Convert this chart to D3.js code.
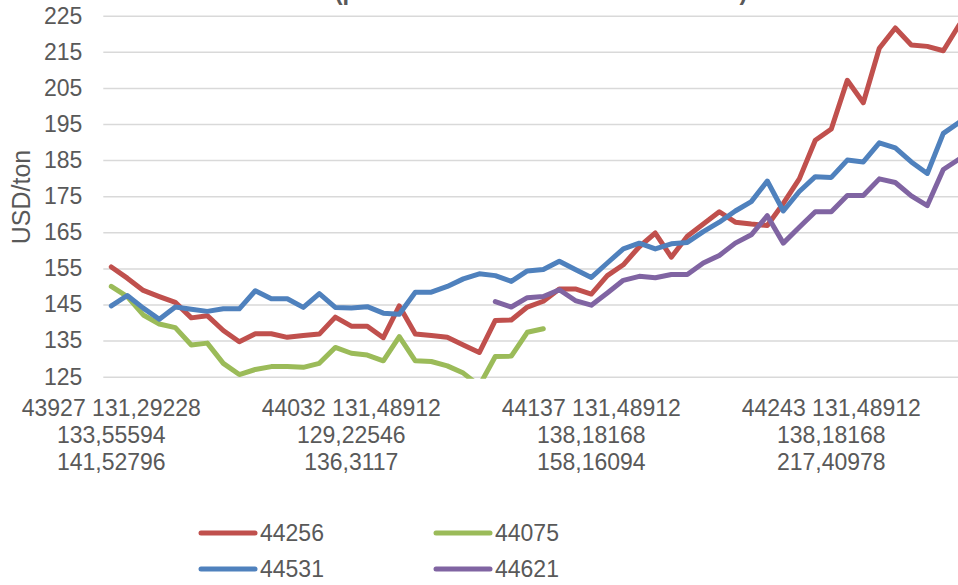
<!DOCTYPE html>
<html>
<head>
<meta charset="utf-8">
<script src="https://cdn.jsdelivr.net/npm/d3@7"></script>
<style>
  html, body { margin: 0; padding: 0; background: #ffffff; }
  svg { display: block; }
  text { font-family: "Liberation Sans", Arial, sans-serif; fill: #595959; }
</style>
</head>
<body>
<div id="chart"></div>
<script>
// ---------- data ----------
const categoryCount = 54; // weekly categories (0 .. 53), axis cut at right edge
const tickIndex = [0, 15, 30, 45];
const tickLabels = [
  ["43927 131,29228", "133,55594", "141,52796"],
  ["44032 131,48912", "129,22546", "136,3117"],
  ["44137 131,48912", "138,18168", "158,16094"],
  ["44243 131,48912", "138,18168", "217,40978"]
];
const yTicks = [125, 135, 145, 155, 165, 175, 185, 195, 205, 215, 225];
const yTitle = "USD/ton";
const chartTitle = "(price on the world market for wheat)";

const seriesNames = ["44256", "44075", "44531", "44621"];
const seriesColors = ["#C0504D", "#9BBB59", "#4F81BD", "#8064A2"];

const s44256 = [155.4,152.3,148.9,147.2,145.6,141.3,141.9,137.8,134.7,136.9,
                136.9,135.9,136.4,136.8,141.5,139.0,139.0,135.8,144.6,136.8,
                136.4,135.9,133.8,131.7,140.6,140.7,144.3,145.9,149.3,149.3,
                147.9,153.0,156.0,161.0,164.8,158.1,163.9,167.3,170.7,167.8,
                167.3,166.9,173.0,179.8,190.5,193.6,207.1,200.9,216.0,221.6,
                216.9,216.5,215.3,222.5];
const s44075 = [150.0,147.2,142.1,139.6,138.6,133.8,134.3,128.7,125.6,127.0,
                127.8,127.8,127.6,128.7,133.1,131.5,131.0,129.4,136.1,129.4,
                129.2,128.0,126.0,122.5,130.6,130.7,137.3,138.3,null,null,
                null,null,null,null,null,null,null,null,null,null,
                null,null,null,null,null,null,null,null,null,null,
                null,null,null,null];
const s44531 = [144.6,147.5,144.0,140.9,144.3,143.7,143.1,143.8,143.8,148.8,
                146.6,146.6,144.2,148.0,144.2,144.0,144.4,142.6,142.3,148.4,
                148.4,150.0,152.1,153.5,153.0,151.4,154.3,154.7,157.0,154.7,
                152.5,156.5,160.4,162.0,160.4,161.8,162.2,165.2,167.8,170.9,
                173.5,179.2,170.9,176.3,180.4,180.2,185.0,184.5,189.8,188.4,
                184.5,181.3,192.4,195.5];
const s44621 = [null,null,null,null,null,null,null,null,null,null,
                null,null,null,null,null,null,null,null,null,null,
                null,null,null,null,145.8,144.3,146.9,147.2,149.1,146.1,
                144.8,148.2,151.7,152.8,152.4,153.3,153.3,156.5,158.6,162.0,
                164.3,169.6,162.0,166.4,170.7,170.7,175.2,175.2,179.8,178.8,
                175.1,172.4,182.4,185.3];
const seriesValues = [s44256, s44075, s44531, s44621];
const drawOrder = [0, 1, 2, 3];

// ---------- layout ----------
const W = 958, H = 585;
const plotLeft = 103.3, step = 16;
const plotTop = 15.7, plotBottom = 376.7;

const svg = d3.select("#chart").append("svg")
  .attr("width", W).attr("height", H);

const x = d3.scaleBand()
  .domain(d3.range(categoryCount))
  .range([plotLeft, plotLeft + categoryCount * step])
  .padding(0);
const xc = i => x(i) + x.bandwidth() / 2;

const y = d3.scaleLinear().domain([125, 225]).range([plotBottom, plotTop]);

// title (mostly above the visible area, as in the reference)
svg.append("text")
  .attr("x", 541).attr("y", -0.5)
  .attr("text-anchor", "middle")
  .style("font-size", "23.5px").style("font-weight", "bold")
  .text(chartTitle);

// y axis with gridlines
const plotRight = plotLeft + categoryCount * step;
const yAxis = d3.axisLeft(y)
  .tickValues(yTicks)
  .tickSize(-(plotRight - plotLeft))
  .tickPadding(21)
  .tickFormat(d3.format("d"));
const gy = svg.append("g")
  .attr("transform", `translate(${plotLeft},0)`)
  .call(yAxis);
gy.select(".domain").remove();
gy.selectAll(".tick line").attr("stroke", "#d9d9d9").attr("stroke-width", 1.5);
gy.selectAll(".tick text")
  .style("font-size", "23px")
  .style("font-family", "'Liberation Sans', Arial, sans-serif")
  .attr("fill", "#595959");

// y title
svg.append("text")
  .attr("transform", "translate(30,197) rotate(-90)")
  .attr("text-anchor", "middle")
  .style("font-size", "25px")
  .text(yTitle);

// x labels (multi-line)
const gx = svg.append("g");
tickIndex.forEach((ci, k) => {
  const t = gx.append("text")
    .attr("x", xc(ci)).attr("y", 416)
    .attr("text-anchor", "middle")
    .style("font-size", "23px");
  tickLabels[k].forEach((line, j) => {
    t.append("tspan").attr("x", xc(ci)).attr("y", 416 + j * 27).text(line);
  });
});

// clip
svg.append("clipPath").attr("id", "plotclip")
  .append("rect")
  .attr("x", plotLeft).attr("y", plotTop - 3)
  .attr("width", plotRight - plotLeft).attr("height", plotBottom - plotTop + 5);

const line = d3.line()
  .defined(d => d != null)
  .x((d, i) => xc(i))
  .y(d => y(d));

const gl = svg.append("g").attr("clip-path", "url(#plotclip)");
drawOrder.forEach(k => {
  gl.append("path")
    .datum(seriesValues[k])
    .attr("fill", "none")
    .attr("stroke", seriesColors[k])
    .attr("stroke-width", 5)
    .attr("stroke-linejoin", "round")
    .attr("stroke-linecap", "round")
    .attr("d", line);
});

// legend
const legendPos = [
  {lx: 200, ly: 533}, {lx: 435, ly: 533},
  {lx: 200, ly: 569}, {lx: 435, ly: 569}
];
seriesNames.forEach((name, k) => {
  const p = legendPos[k];
  svg.append("line")
    .attr("x1", p.lx + 1).attr("x2", p.lx + 55)
    .attr("y1", p.ly).attr("y2", p.ly)
    .attr("stroke", seriesColors[k]).attr("stroke-width", 5)
    .attr("stroke-linecap", "round");
  svg.append("text")
    .attr("x", p.lx + 60).attr("y", p.ly)
    .attr("dy", "0.35em")
    .style("font-size", "23px")
    .text(name);
});
</script>
</body>
</html>
